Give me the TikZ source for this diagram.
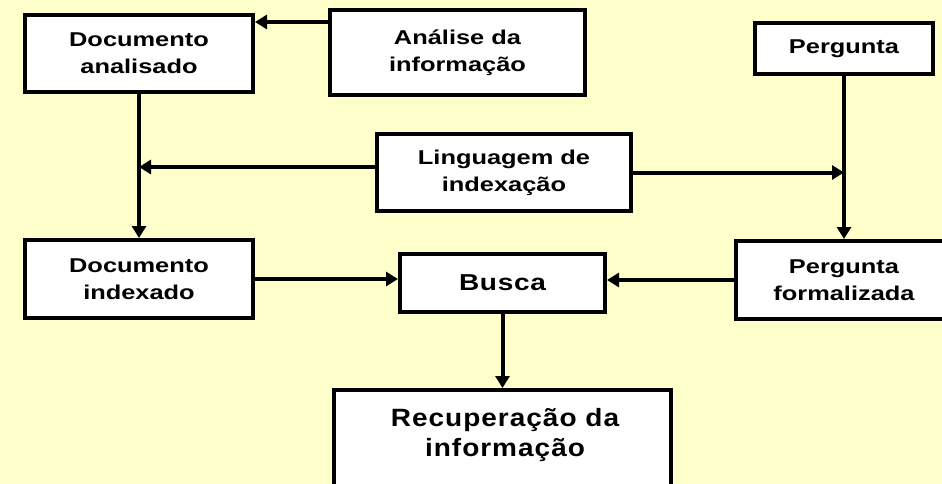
\documentclass[tikz,border=0pt]{standalone}
\usepackage{fontspec}
\setmainfont{Liberation Sans}[FakeStretch=1.27]
\newfontfamily\bigfont{Liberation Sans}[FakeStretch=1.12, LetterSpace=4]
\newfontfamily\buscafont{Liberation Sans}[FakeStretch=1.22, LetterSpace=3]
\usetikzlibrary{arrows.meta,calc}
\definecolor{bgyellow}{HTML}{FFFFCC}
\tikzset{
  box/.style={draw=black, line width=4pt, fill=white, inner sep=0pt, align=center,
    font=\bfseries\fontsize{20}{27}\selectfont},
  bigtext/.style={align=center, inner sep=0pt, font=\bigfont\bfseries\fontsize{25}{30}\selectfont},
  arr/.style={line width=4pt, -{Triangle[length=12pt,width=14pt]}}
}
\begin{document}
\begin{tikzpicture}[x=1pt,y=-1pt]
\useasboundingbox (0,0) rectangle (942,484);
\clip (0,0) rectangle (942,484);
\fill[bgyellow] (0,0) rectangle (942,484);
\node[box, minimum width=228pt, minimum height=77pt] (docA) at (139,53.5) {Documento\\analisado};
\node[box, minimum width=255pt, minimum height=85pt] (anal) at (457.5,52.5) {Análise da\\informação};
\node[box, minimum width=254pt, minimum height=77pt] (ling) at (504,172.5) {Linguagem de\\indexação};
\node[box, minimum width=178pt, minimum height=51pt] (perg) at (844,48.5) {Pergunta};
\node[box, minimum width=228pt, minimum height=78pt] (docI) at (139,279) {Documento\\indexado};
\node[box, minimum width=205pt, minimum height=58pt, font=\buscafont\bfseries\fontsize{23}{28}\selectfont] (busca) at (502.5,283) {Busca};
\node[box, minimum width=216pt, minimum height=78pt] (pergF) at (844,280) {Pergunta\\formalizada};
\node[box, minimum width=337pt, minimum height=98pt] (recup) at (502.5,439) {};
\node[bigtext] (recupT) at (505,435) {Recuperação da\\informação};
% connectors
\draw[arr] ([yshift=30.5pt]anal.west) -- ([yshift=30.5pt]anal.west -| docA.east);
\draw[arr] (docA.south) -- (docI.north);
\draw[arr] ([yshift=5.5pt]ling.west) -- ([yshift=5.5pt]ling.west -| docA.south);
\draw[arr] (ling.east) -- (ling.east -| perg.south);
\draw[arr] (perg.south) -- (pergF.north);
\draw[arr] (docI.east) -- (docI.east -| busca.west);
\draw[arr] (pergF.west) -- (pergF.west -| busca.east);
\draw[arr] (busca.south) -- (recup.north);
\end{tikzpicture}
\end{document}
